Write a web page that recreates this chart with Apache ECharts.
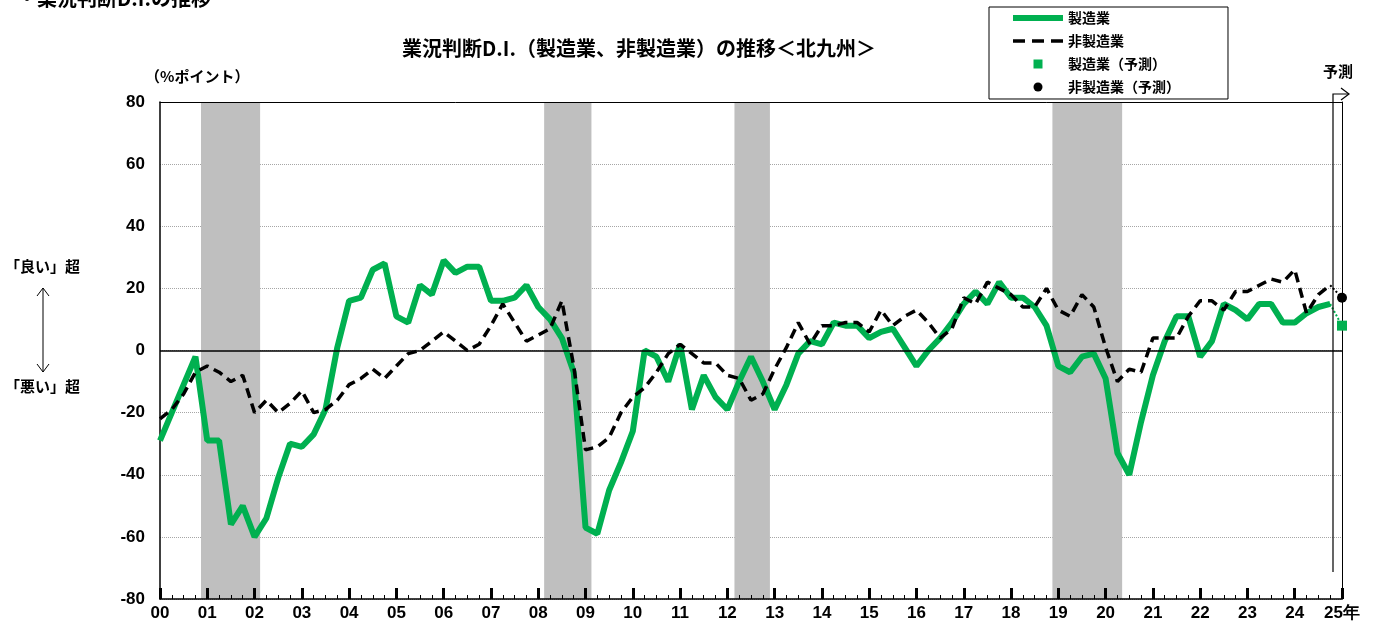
<!DOCTYPE html>
<html>
<head>
<meta charset="utf-8">
<script src="https://cdn.jsdelivr.net/npm/echarts@6/dist/echarts.min.js"></script>
<style>
  html, body { margin: 0; background: #fff; }
  #main { width: 1386px; height: 627px; }
</style>
</head>
<body>
<div id="main"></div>
<script>
// 四半期ごと (2000年1Q = 0)
const yearLabels = ['00','01','02','03','04','05','06','07','08','09','10','11','12',
  '13','14','15','16','17','18','19','20','21','22','23','24','25年'];

const manufacturing = [
  -29, -20, -11, -2, -29, -29, -56, -50, -60, -54,
  -41, -30, -31, -27, -19, 1, 16, 17, 26, 28,
  11, 9, 21, 18, 29, 25, 27, 27, 16, 16,
  17, 21, 14, 10, 4, -7, -57, -59, -45, -36,
  -26, 0, -2, -10, 2, -19, -8, -15, -19, -10,
  -2, -10, -19, -11, -1, 3, 2, 9, 8, 8,
  4, 6, 7, 1, -5, 0, 4, 9, 15, 19,
  15, 22, 17, 17, 14, 8, -5, -7, -2, -1,
  -9, -33, -40, -23, -8, 3, 11, 11, -2, 3,
  15, 13, 10, 15, 15, 9, 9, 12, 14, 15
];

const nonManufacturing = [
  -22, -19, -14, -7, -5, -7, -10, -8, -20, -16,
  -20, -17, -13, -20, -19, -16, -11, -9, -6, -9,
  -5, -1, 0, 3, 6, 3, 0, 2, 8, 15,
  9, 3, 5, 7, 16, -5, -32, -31, -28, -20,
  -15, -12, -7, -1, 2, -1, -4, -4, -8, -9,
  -16, -14, -6, 1, 9, 2, 8, 8, 9, 9,
  6, 13, 8, 11, 13, 9, 4, 7, 17, 15,
  22, 20, 18, 14, 14, 20, 13, 11, 18, 14,
  1, -10, -6, -7, 4, 4, 4, 11, 16, 16,
  13, 19, 19, 21, 23, 22, 26, 12, 18, 21
];

// 予測 (25年1Q)
const forecastIndex = 100;
const manufacturingForecast = 8;
const nonManufacturingForecast = 17;

// 景気後退期 (シャドー)
const recessions = [[3.47, 8.47], [32.5, 36.5], [48.6, 51.6], [75.5, 81.4]];

const jp = '"Noto Sans CJK JP", sans-serif';
const num = '"Liberation Sans", Arial, sans-serif';
const numNarrow = '"Liberation Sans Narrow", "Liberation Sans", Arial, sans-serif';
const green = '#00b050';

const toPairs = arr => arr.map((v, i) => [i, v]);
const last = manufacturing.length - 1;

var myChart = echarts.init(document.getElementById('main'));
myChart.setOption({
  animation: false,
  backgroundColor: '#fff',
  title: [
    {
      text: '業況判断D.I.（製造業、非製造業）の推移＜北九州＞',
      left: 397, top: 33,
      textStyle: { fontFamily: jp, fontWeight: 'bold', fontSize: 20, color: '#000' }
    },
    {
      text: '・業況判断D.I.の推移',
      left: 12, top: -17,
      textStyle: { fontFamily: jp, fontWeight: 'bold', fontSize: 20, color: '#000' }
    },
    {
      text: '（%ポイント）',
      left: 140, top: 64,
      textStyle: { fontFamily: jp, fontWeight: 'bold', fontSize: 15, color: '#000' }
    }
  ],
  legend: {
    orient: 'vertical',
    left: 989, top: 7,
    padding: [4, 48, 5, 24],
    itemWidth: 50, itemHeight: 9, itemGap: 9,
    borderColor: '#000', borderWidth: 1,
    selectedMode: false,
    textStyle: { fontFamily: jp, fontWeight: 'bold', fontSize: 14, color: '#000' },
    data: [
      { name: '製造業', icon: 'path://M0,0h50v6h-50z' },
      { name: '非製造業', icon: 'path://M0,0h12v3.5h-12z M19,0h12v3.5h-12z M38,0h12v3.5h-12z' },
      { name: '製造業（予測）', icon: 'path://M0,0h10v10h-10z' },
      { name: '非製造業（予測）', icon: 'path://M5,0A5,5,0,1,1,5,10A5,5,0,1,1,5,0z' }
    ]
  },
  grid: { left: 160, right: 44, top: 102, bottom: 28 },
  xAxis: [
    {
      type: 'value', min: 0, max: 100, interval: 4, z: 5,
      axisLine: { onZero: false, lineStyle: { color: '#000', width: 1.5 } },
      axisTick: { inside: true, length: 11, lineStyle: { color: '#000', width: 3 } },
      minorTick: { show: true, splitNumber: 4, length: 4, lineStyle: { color: '#000', width: 1 } },
      splitLine: { show: false },
      axisLabel: {
        formatter: v => yearLabels[Math.round(v / 4)],
        color: '#000', fontFamily: numNarrow, fontWeight: 'bold', fontSize: 17, margin: 6
      }
    },
    {
      type: 'value', position: 'top', min: 0, max: 100, z: 5,
      axisLine: { onZero: false, lineStyle: { color: '#000', width: 1 } },
      axisTick: { show: false }, axisLabel: { show: false }, splitLine: { show: false }
    }
  ],
  yAxis: [
    {
      type: 'value', min: -80, max: 80, interval: 20,
      axisLine: { show: true, onZero: false, lineStyle: { color: '#000', width: 1.5 } },
      axisTick: { show: false },
      splitLine: { lineStyle: { color: '#a6a6a6', type: 'dotted', width: 1 } },
      axisLabel: { color: '#000', fontFamily: num, fontWeight: 'bold', fontSize: 17, margin: 15 }
    },
    {
      type: 'value', position: 'right', min: -80, max: 80, z: 5,
      axisLine: { show: true, onZero: false, lineStyle: { color: '#000', width: 1 } },
      axisTick: { show: false }, axisLabel: { show: false }, splitLine: { show: false }
    }
  ],
  graphic: [
    { type: 'text', left: 5, top: 259, style: { text: '「良い」超', font: 'bold 15px ' + jp, fill: '#000' } },
    { type: 'text', left: 5, top: 379, style: { text: '「悪い」超', font: 'bold 15px ' + jp, fill: '#000' } },
    { type: 'polyline', shape: { points: [[43, 288], [43, 372]] }, style: { stroke: '#000', lineWidth: 1 } },
    { type: 'polyline', shape: { points: [[37, 296], [43, 288], [49, 296]] }, style: { stroke: '#000', lineWidth: 1, fill: null } },
    { type: 'polyline', shape: { points: [[37, 364], [43, 372], [49, 364]] }, style: { stroke: '#000', lineWidth: 1, fill: null } },
    { type: 'text', left: 1323, top: 64, style: { text: '予測', font: 'bold 15px ' + jp, fill: '#000' } },
    { type: 'polyline', z: 10, shape: { points: [[1333, 572], [1333, 94], [1348, 94]] }, style: { stroke: '#000', lineWidth: 1.2, fill: null } },
    { type: 'polyline', z: 10, shape: { points: [[1341, 88], [1349, 94], [1341, 100]] }, style: { stroke: '#000', lineWidth: 1.2, fill: null } }
  ],
  series: [
    {
      type: 'line', data: [], z: 1, silent: true,
      markArea: {
        silent: true,
        itemStyle: { color: '#bfbfbf' },
        data: recessions.map(r => [{ xAxis: r[0] }, { xAxis: r[1] }])
      }
    },
    {
      type: 'line', data: [], z: 2, silent: true,
      markLine: {
        silent: true, symbol: 'none', label: { show: false },
        lineStyle: { color: '#000', width: 1.5, type: 'solid' },
        data: [{ yAxis: 0 }]
      }
    },
    {
      type: 'line', z: 3, symbol: 'none', silent: true,
      data: [[last, manufacturing[last]], [forecastIndex, manufacturingForecast]],
      lineStyle: { color: green, width: 2, type: 'dotted' }
    },
    {
      type: 'line', z: 3, symbol: 'none', silent: true,
      data: [[last, nonManufacturing[last]], [forecastIndex, nonManufacturingForecast]],
      lineStyle: { color: '#000', width: 2, type: 'dotted' }
    },
    {
      name: '製造業', type: 'line', z: 4, symbol: 'none',
      data: toPairs(manufacturing),
      lineStyle: { color: green, width: 6 },
      itemStyle: { color: green }
    },
    {
      name: '非製造業', type: 'line', z: 5, symbol: 'none',
      data: toPairs(nonManufacturing),
      lineStyle: { color: '#000', width: 3.5, type: [10, 6] },
      itemStyle: { color: '#000' }
    },
    {
      name: '製造業（予測）', type: 'scatter', z: 6, symbol: 'rect', symbolSize: 10,
      data: [[forecastIndex, manufacturingForecast]],
      itemStyle: { color: green, opacity: 1 }
    },
    {
      name: '非製造業（予測）', type: 'scatter', z: 6, symbol: 'circle', symbolSize: 10,
      data: [[forecastIndex, nonManufacturingForecast]],
      itemStyle: { color: '#000', opacity: 1 }
    }
  ]
});
</script>
</body>
</html>
